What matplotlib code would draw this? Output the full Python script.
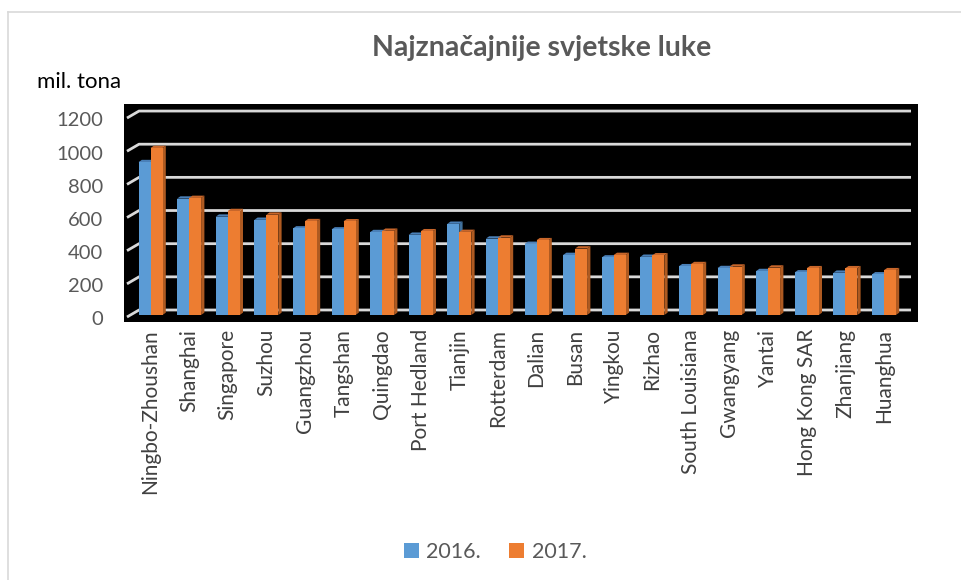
import matplotlib
matplotlib.use("Agg")
import matplotlib.pyplot as plt
from matplotlib.patches import Polygon, Rectangle, Patch
from matplotlib.lines import Line2D
import numpy as np

ports = ["Ningbo-Zhoushan", "Shanghai", "Singapore", "Suzhou", "Guangzhou",
         "Tangshan", "Quingdao", "Port Hedland", "Tianjin", "Rotterdam",
         "Dalian", "Busan", "Yingkou", "Rizhao", "South Louisiana",
         "Gwangyang", "Yantai", "Hong Kong SAR", "Zhanjiang", "Huanghua"]
tons_2016 = [922, 702, 593, 574, 522, 516, 500, 484, 550, 461,
             429, 362, 347, 351, 294, 283, 265, 257, 255, 245]
tons_2017 = [1007, 706, 627, 605, 566, 565, 508, 505, 501, 467,
             451, 401, 362, 360, 307, 292, 286, 282, 282, 270]
series_labels = ["2016.", "2017."]
y_ticks = [0, 200, 400, 600, 800, 1000, 1200]

FONT = ["Lato", "DejaVu Sans"]
plt.rcParams["font.family"] = FONT

W, H, DPI = 961, 580, 100
fig = plt.figure(figsize=(W / DPI, H / DPI), dpi=DPI)
fig.patch.set_facecolor("white")

# plot area in pixels
left_px, right_px, top_px, bot_px = 124, 918, 104, 322
ax = fig.add_axes([left_px / W, 1 - bot_px / H,
                   (right_px - left_px) / W, (bot_px - top_px) / H])
ax.set_facecolor("black")
for s in ax.spines.values():
    s.set_visible(False)

x_per_px = 1 / 38.6
y_per_px = 1 / 0.1658
xmin = -(150.5 - left_px) * x_per_px
xmax = xmin + (right_px - left_px) * x_per_px
ymin = -(bot_px - 315) * y_per_px
ymax = ymin + (bot_px - top_px) * y_per_px
ax.set_xlim(xmin, xmax)
ax.set_ylim(ymin, ymax)

# back-wall gridlines with the slanted floor/wall edge at the left
wall_dy = 5 * y_per_px
grid_c = "#d9d9d9"
x_front = xmin + 3 * x_per_px
x_back = xmin + 15 * x_per_px
x_end = xmin + (911 - left_px) * x_per_px
for v in y_ticks:
    ax.plot([x_front, x_back, x_end], [v - 2 * y_per_px, v + wall_dy, v + wall_dy],
            color=grid_c, lw=2.0, solid_capstyle="butt", zorder=1)

# 3D-looking columns
bw = 12 * x_per_px
ddx = 3.3 * x_per_px
ddy = 2.3 * y_per_px
styles = [("#5B9BD5", "#4A80B8", "#41719C"), ("#ED7D31", "#C8662A", "#AE5A21")]


def column(x0, h, cols, z):
    front, top, side = cols
    ax.add_patch(Polygon([(x0 + bw, 0), (x0 + bw + ddx, ddy), (x0 + bw + ddx, h + ddy),
                          (x0 + bw, h)], closed=True, fc=side, ec="none", zorder=z))
    ax.add_patch(Polygon([(x0, h), (x0 + ddx, h + ddy), (x0 + bw + ddx, h + ddy),
                          (x0 + bw, h)], closed=True, fc=top, ec="none", zorder=z))
    ax.add_patch(Rectangle((x0, 0), bw, h, fc=front, ec="none", zorder=z))


for i in range(len(ports)):
    column(i - bw, tons_2016[i], styles[0], 3 + 2 * i)
    column(i, tons_2017[i], styles[1], 4 + 2 * i)

# axis labels
ax.set_yticks(np.array(y_ticks) - 20)
ax.set_yticklabels([str(v) for v in y_ticks])
ax.tick_params(axis="y", length=0, pad=15, labelsize=14.5, labelcolor="#595959")
ax.set_xticks(np.arange(len(ports)))
ax.set_xticklabels(ports, rotation=90, va="top", ha="center")
ax.tick_params(axis="x", length=0, pad=5, labelsize=15, labelcolor="#404040")

fig.text(37 / W, 1 - 82 / H, "mil. tona", fontsize=16, color="#000000",
         ha="left", va="center")
fig.text(542 / W, 1 - 48 / H, "Najznačajnije svjetske luke", fontsize=20.5,
         fontweight="bold", color="#595959", ha="center", va="center")

handles = [Patch(fc=styles[0][0], ec="none"), Patch(fc=styles[1][0], ec="none")]
fig.legend(handles, series_labels, loc="center", bbox_to_anchor=(495 / W, 1 - 552 / H),
           ncol=2, frameon=False, fontsize=15.5, handlelength=0.7, handleheight=0.7,
           handletextpad=0.35, columnspacing=1.3, labelcolor="#595959")

# chart border
fig.add_artist(Line2D([8 / W, 1], [1 - 12 / H, 1 - 12 / H], color="#d9d9d9", lw=1.2,
                      transform=fig.transFigure))
fig.add_artist(Line2D([8 / W, 8 / W], [1 - 12 / H, 0], color="#d9d9d9", lw=1.2,
                      transform=fig.transFigure))

fig.savefig("out.png", dpi=DPI)
